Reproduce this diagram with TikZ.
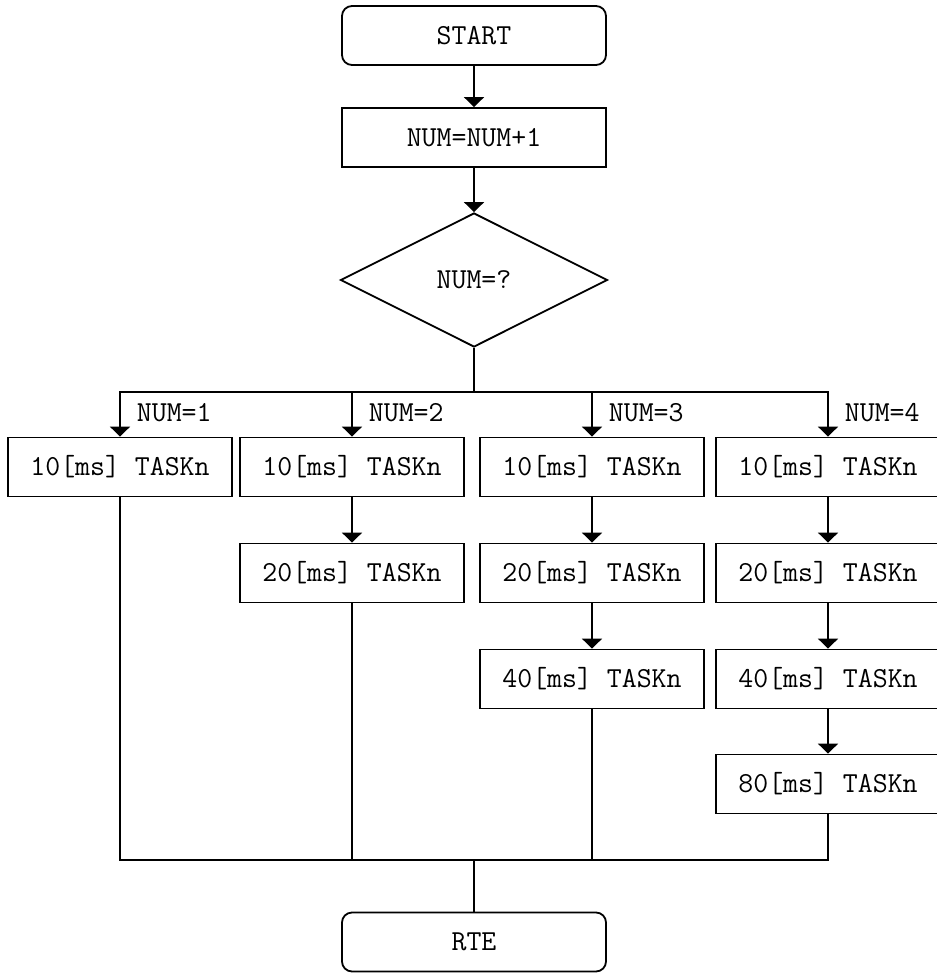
\documentclass[tikz,border=0pt]{standalone}
\usepackage{tikz}
\usetikzlibrary{shapes.geometric,arrows.meta}

\begin{document}
\begin{tikzpicture}[x=0.5pt,y=-0.5pt,line width=0.9pt,
    every node/.style={font=\ttfamily\fontsize{14.5}{17}\selectfont},
    terminal/.style={draw,rounded corners=5pt,minimum width=132pt,minimum height=29.5pt,inner sep=0pt},
    process/.style={draw,minimum width=132pt,minimum height=29.5pt,inner sep=0pt},
    task/.style={draw,minimum width=112pt,minimum height=29.5pt,inner sep=0pt},
    decision/.style={draw,diamond,minimum width=133.5pt,minimum height=67pt,inner sep=0pt},
    flow/.style={-{Triangle[width=10pt,length=5pt]}}]
  \useasboundingbox (0,0) rectangle (936,973);

  \node[terminal] (start) at (474,35.5) {START};
  \node[process] (incr) at (474,137.5) {NUM=NUM+1};
  \node[decision] (check) at (474,280) {NUM=?};
  \coordinate (fork) at (474,392);
  \coordinate (join) at (474,860);
  \node[terminal] (rte) at (474,942) {RTE};

  % one column per value of NUM
  \node[task] (t11) at (120,467) {10[ms] TASKn};

  \node[task] (t21) at (352,467) {10[ms] TASKn};
  \node[task] (t22) at (352,573) {20[ms] TASKn};

  \node[task] (t31) at (592,467) {10[ms] TASKn};
  \node[task] (t32) at (592,573) {20[ms] TASKn};
  \node[task] (t33) at (592,679) {40[ms] TASKn};

  \node[task] (t41) at (828,467) {10[ms] TASKn};
  \node[task] (t42) at (828,573) {20[ms] TASKn};
  \node[task] (t43) at (828,679) {40[ms] TASKn};
  \node[task] (t44) at (828,784) {80[ms] TASKn};

  \draw[flow] (start) -- (incr);
  \draw[flow] (incr) -- (check);
  \draw (check.south) -- (fork);
  \foreach \n in {1,2,3,4}
    \draw[flow] (fork) -| (t\n1)
      node[pos=0.73,right=7pt,inner sep=1pt] (num\n) {NUM=\n};

  \draw[flow] (t21) -- (t22);
  \draw[flow] (t31) -- (t32);
  \draw[flow] (t32) -- (t33);
  \draw[flow] (t41) -- (t42);
  \draw[flow] (t42) -- (t43);
  \draw[flow] (t43) -- (t44);

  \foreach \last in {t11,t22,t33,t44}
    \draw (\last.south) |- (join);
  \draw (join) -- (rte);
\end{tikzpicture}
\end{document}
